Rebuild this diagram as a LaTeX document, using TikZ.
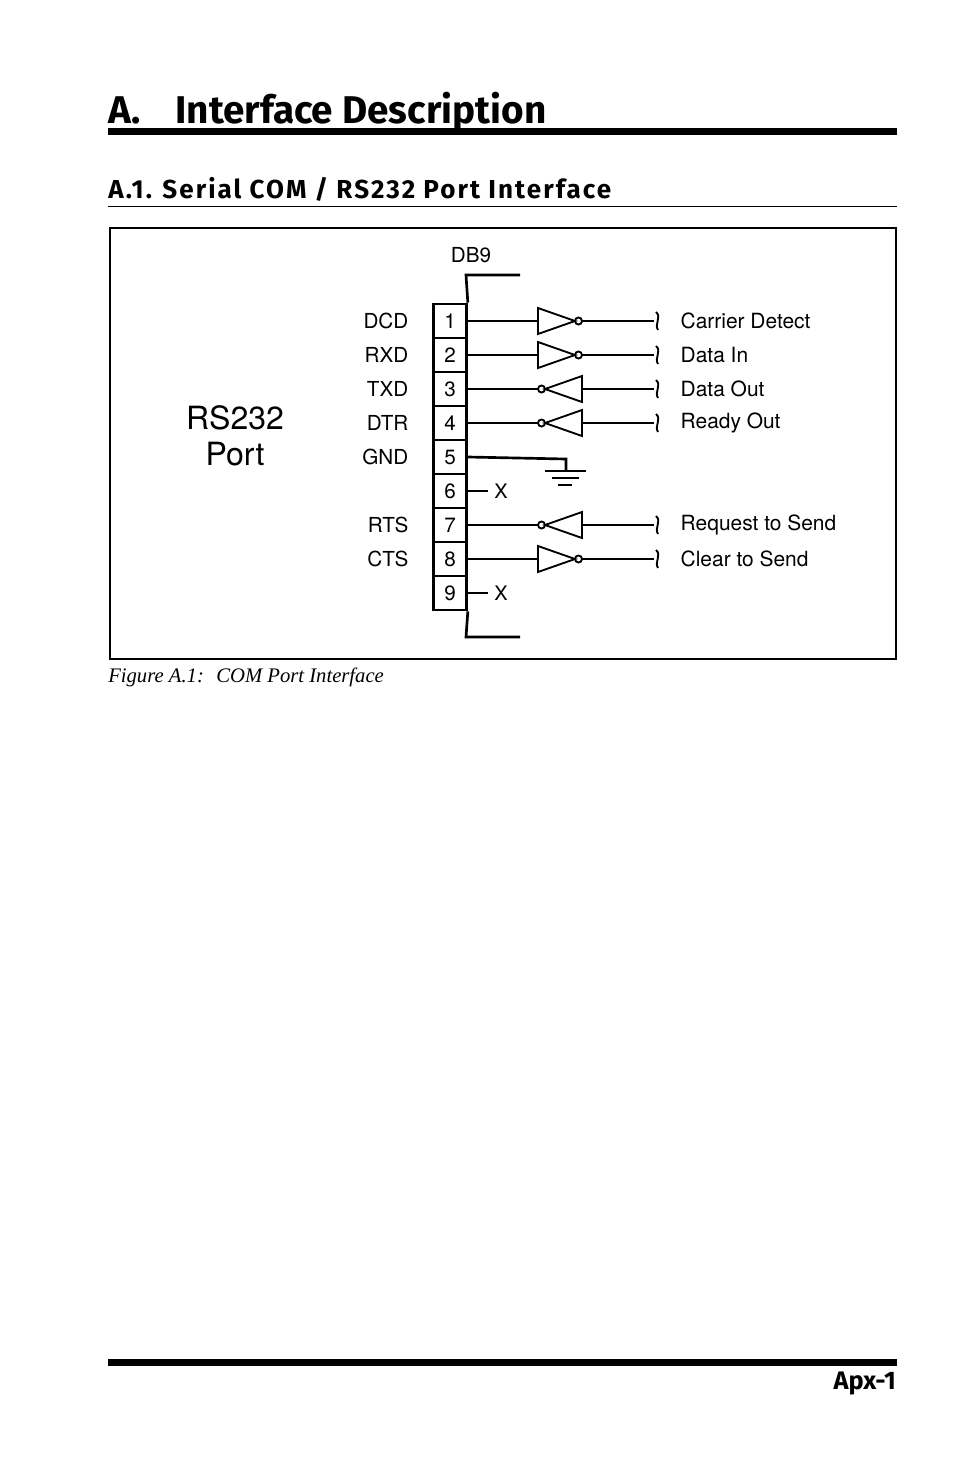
\documentclass[tikz,border=0pt]{standalone}
\usepackage{fontspec}
\setmainfont{Liberation Serif}
\setsansfont{TeX Gyre Heros}
\newfontfamily\headfont{Fira Sans}
\newfontfamily\headwide[LetterSpace=8]{Fira Sans}
\usetikzlibrary{calc, positioning}
\tikzset{
  pinbox/.style={draw, line width=2pt, minimum width=33pt*0.75, minimum height=34pt*0.75, inner sep=0pt, font=\sffamily\fontsize{15.5}{15}\selectfont},
  sig/.style={anchor=east, font=\sffamily\fontsize{15.5}{16}\selectfont},
  desc/.style={anchor=west, font=\sffamily\fontsize{15.7}{16}\selectfont},
  wire/.style={line width=2pt},
  gate/.style={line width=1.4pt}
}
\begin{document}
\begin{tikzpicture}[x=0.75pt, y=-0.75pt, >=latex]
  \useasboundingbox (0,0) rectangle (954,1475);
  % headings
  \node[anchor=base west, inner sep=0pt, font=\headfont\bfseries\fontsize{29}{30}\selectfont] (title) at (108,123) {A.\hspace{0.9em}Interface Description};
  \fill (108,128) rectangle (897,135);
  \node[anchor=base west, inner sep=0pt, font=\headwide\bfseries\fontsize{19.5}{20}\selectfont] (sect) at (108,198) {A.1.\hspace{0.4em}Serial COM / RS232 Port Interface};
  \draw[line width=1pt] (108,206.5) -- (897,206.5);
  % frame
  \draw[line width=2pt] (110,228) rectangle (896,659);
  \node[font=\sffamily\fontsize{15.5}{16}\selectfont] (db9) at (471,255) {DB9};
  \node[align=center, font=\sffamily\fontsize{24}{27}\selectfont] (port) at (235,436) {RS232\\Port};
  % connector pins
  \foreach \i in {1,...,9} {
    \node[pinbox] (pin\i) at (450,{321+34*(\i-1)}) {\i};
  }
  \draw[wire] (520,275) -- (466,275) -- (pin1.north east);
  \draw[wire] (pin9.south east) -- (466,637) -- (520,637);
  \foreach \i/\s in {1/DCD,2/RXD,3/TXD,4/DTR,5/GND,7/RTS,8/CTS} {
    \node[sig] (sig\i) at (413,{321+34*(\i-1)}) {\s};
  }
  % receivers (pin to logic)
  \foreach \i/\d in {1/Carrier Detect,2/Data In,8/Clear to Send} {
    \coordinate (g\i) at (538,{321+34*(\i-1)});
    \draw[gate] ($(g\i)+(0,-13)$) -- ($(g\i)+(37,0)$) -- ($(g\i)+(0,13)$) -- cycle;
    \draw[gate] ($(g\i)+(40.5,0)$) circle (3.5);
    \draw[wire] (pin\i.east) -- (g\i);
    \draw[wire] ($(g\i)+(44,0)$) -- ($(g\i)+(116,0)$);
    \draw[gate] ($(g\i)+(118,-9)$) .. controls ($(g\i)+(124,-4)$) and ($(g\i)+(116,3)$) .. ($(g\i)+(120,9)$);
    \node[desc] (d\i) at (676,{321+34*(\i-1)}) {\d};
  }
  % drivers (logic to pin)
  \foreach \i/\d in {3/Data Out,4/Ready Out,7/Request to Send} {
    \coordinate (g\i) at (538,{321+34*(\i-1)});
    \draw[gate] ($(g\i)+(44,-13)$) -- ($(g\i)+(7,0)$) -- ($(g\i)+(44,13)$) -- cycle;
    \draw[gate] ($(g\i)+(3.5,0)$) circle (3.5);
    \draw[wire] (pin\i.east) -- (g\i);
    \draw[wire] ($(g\i)+(44,0)$) -- ($(g\i)+(116,0)$);
    \draw[gate] ($(g\i)+(118,-9)$) .. controls ($(g\i)+(124,-4)$) and ($(g\i)+(116,3)$) .. ($(g\i)+(120,9)$);
    \node[desc] (d\i) at (676,{321+34*(\i-1)}) {\d};
  }
  % ground
  \draw[wire] (pin5.east) -- (566,459) -- (566,471);
  \draw[wire] (545,471) -- (586,471);
  \draw[wire] (552,478) -- (579,478);
  \draw[wire] (558,485) -- (572,485);
  % no connect
  \foreach \i in {6,9} {
    \node[font=\sffamily\fontsize{15}{15}\selectfont, inner sep=1pt] (nc\i) at (501,{321+34*(\i-1)}) {X};
    \draw[wire] (pin\i.east) -- ++(20,0);
  }
  % caption
  \node[anchor=base west, inner sep=0pt, font=\itshape\fontsize{15.5}{16}\selectfont] (cap) at (108,682) {Figure A.1:\hspace{0.6em}COM Port Interface};
  % footer
  \fill (108,1359) rectangle (897,1366);
  \node[anchor=base east, inner sep=0pt, font=\headfont\bfseries\fontsize{19}{20}\selectfont] (page) at (896,1389) {Apx-1};
\end{tikzpicture}
\end{document}
